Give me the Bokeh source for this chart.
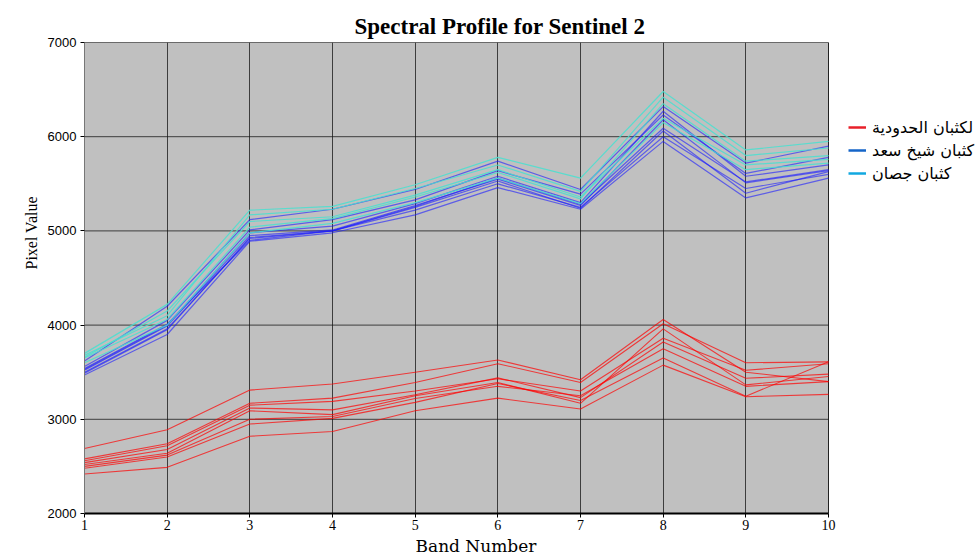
from bokeh.plotting import figure
from bokeh.models import Legend, LegendItem, Title, Range1d, FixedTicker
from bokeh.embed import file_html
from bokeh.resources import INLINE

bands = [1, 2, 3, 4, 5, 6, 7, 8, 9, 10]
y_ticks = [2000, 3000, 4000, 5000, 6000, 7000]

title_text = "Spectral Profile for Sentinel 2"
x_label = "Band Number"
y_label = "Pixel Value"
legend_labels = ["لكثبان الحدودية", "كثبان شيخ سعد", "كثبان جصان"]

red_lines = [
    [2690, 2890, 3310, 3375, 3500, 3630, 3420, 4060, 3500, 3400],
    [2580, 2740, 3170, 3225, 3390, 3590, 3390, 4015, 3600, 3610],
    [2560, 2720, 3150, 3190, 3300, 3430, 3300, 3860, 3520, 3590],
    [2540, 2680, 3120, 3100, 3260, 3440, 3230, 3820, 3435, 3480],
    [2520, 2640, 3090, 3050, 3250, 3390, 3170, 3960, 3365, 3455],
    [2500, 2620, 3000, 3030, 3220, 3350, 3250, 3750, 3350, 3400],
    [2480, 2600, 2950, 3010, 3180, 3380, 3200, 3650, 3245, 3610],
    [2420, 2490, 2820, 2870, 3090, 3225, 3110, 3575, 3240, 3265],
]
blue_lines = [
    [3620, 4200, 5120, 5230, 5440, 5740, 5440, 6320, 5720, 5900],
    [3560, 4050, 5010, 5120, 5330, 5640, 5390, 6230, 5610, 5780],
    [3530, 4000, 4980, 5050, 5290, 5580, 5300, 6270, 5580, 5700],
    [3520, 3990, 4950, 5010, 5270, 5550, 5270, 6180, 5510, 5640],
    [3500, 3960, 4920, 5000, 5250, 5530, 5240, 6060, 5400, 5630],
    [3470, 3900, 4890, 4980, 5170, 5460, 5230, 5950, 5350, 5560],
    [3540, 4010, 4900, 5000, 5260, 5560, 5280, 6090, 5520, 5650],
    [3490, 3950, 4930, 5000, 5220, 5500, 5250, 6000, 5450, 5600],
]
cyan_lines = [
    [3700, 4220, 5220, 5260, 5490, 5780, 5560, 6480, 5860, 5950],
    [3680, 4100, 5170, 5230, 5450, 5700, 5420, 6420, 5800, 5880],
    [3650, 4060, 5040, 5130, 5360, 5620, 5340, 6350, 5740, 5800],
    [3600, 4000, 4980, 5080, 5300, 5560, 5290, 6150, 5650, 5720],
    [3660, 4150, 5100, 5150, 5380, 5650, 5360, 6195, 5700, 5760],
]

# frame spans to the right edge so the legend can sit inside it;
# the gray plotting area covers only bands 1..10
band_px = (828 - 84) / (bands[-1] - bands[0])
x_end = bands[0] + (980 - 84) / band_px

p = figure(width=980, height=556, output_backend="svg", toolbar_location=None,
           x_range=Range1d(bands[0], x_end), y_range=Range1d(y_ticks[0], y_ticks[-1]),
           min_border_left=84, min_border_right=0, min_border_top=42,
           min_border_bottom=40)
p.background_fill_color = "white"
p.border_fill_color = "white"
p.outline_line_color = None

# gray plotting area
p.quad(left=[bands[0]], right=[bands[-1]], bottom=[y_ticks[0]], top=[y_ticks[-1]],
       fill_color="#c0c0c0", line_color="#555555", line_width=1, level="image")
# horizontal grid lines limited to the plotting area
p.segment(x0=[bands[0]] * len(y_ticks), x1=[bands[-1]] * len(y_ticks),
          y0=y_ticks, y1=y_ticks, line_color="#111111", line_alpha=0.75,
          line_width=1, level="underlay")
p.ygrid.visible = False

for ys in red_lines:
    p.line(bands, ys, line_color="#ff0000", line_alpha=0.7, line_width=1.1)
for ys in blue_lines:
    p.line(bands, ys, line_color="#1a1aff", line_alpha=0.6, line_width=1.2)
for ys in cyan_lines:
    p.line(bands, ys, line_color="#48e0d0", line_alpha=0.85, line_width=1.2)

leg_colors = ["#e8202a", "#1565c8", "#12a8e0"]
items = []
for lab, col in zip(legend_labels, leg_colors):
    r = p.line(x=[bands[0]], y=[float("nan")], line_color=col, line_width=2.5)
    items.append(LegendItem(label=lab, renderers=[r]))

legend = Legend(items=items, location=(764, 330), padding=0, margin=0,
                border_line_color=None, background_fill_alpha=0,
                glyph_width=18, glyph_height=20, label_height=20, spacing=3,
                label_standoff=6, label_text_font="DejaVu Sans",
                label_text_font_size="16px", label_text_color="black")
p.add_layout(legend, "center")

# axes
p.xaxis.ticker = FixedTicker(ticks=bands)
p.yaxis.ticker = FixedTicker(ticks=y_ticks)
p.xgrid.ticker = FixedTicker(ticks=bands)
p.xgrid.grid_line_color = "#111111"
p.xgrid.grid_line_alpha = 0.75
p.xgrid.grid_line_width = 1
p.xaxis.bounds = (bands[0], bands[-1])

p.xaxis.axis_line_color = "black"
p.xaxis.axis_line_width = 2
p.yaxis.axis_line_color = "#777777"
p.axis.minor_tick_line_color = None
p.axis.major_tick_in = 0
p.axis.major_tick_out = 4
p.axis.major_tick_line_color = "black"
p.xaxis.major_label_text_font = "Liberation Serif"
p.xaxis.major_label_text_font_size = "14px"
p.xaxis.major_label_standoff = 2
p.yaxis.major_label_text_font = "Liberation Sans"
p.yaxis.major_label_text_font_size = "13px"
p.yaxis.major_label_standoff = 4
p.axis.major_label_text_color = "black"

p.add_layout(Title(text=title_text, align="left", offset=270, standoff=8,
                   text_font="Liberation Serif", text_font_style="bold",
                   text_font_size="23px", text_color="black"), "above")
p.add_layout(Title(text=y_label, align="left", offset=244, standoff=10,
                   text_font="Liberation Serif", text_font_style="normal",
                   text_font_size="16px", text_color="black"), "left")
p.add_layout(Title(text=x_label, align="left", offset=331, standoff=2,
                   text_font="DejaVu Serif", text_font_style="normal",
                   text_font_size="17px", text_color="black"), "below")

open("out.html", "w").write(file_html(p, INLINE))
